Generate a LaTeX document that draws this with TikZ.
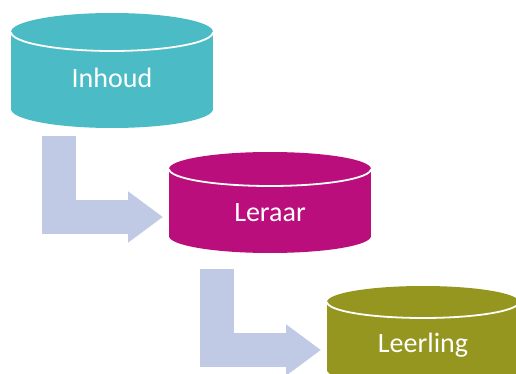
\documentclass[tikz,border=0pt]{standalone}
\usepackage{fontspec}
\setmainfont{Carlito}
\usetikzlibrary{arrows.meta}

\definecolor{inhoudteal}{RGB}{75,187,198}
\definecolor{leraarpink}{RGB}{186,14,125}
\definecolor{leerlingolive}{RGB}{149,150,31}
\definecolor{flowblue}{RGB}{192,202,228}

\begin{document}
\begin{tikzpicture}[x=1pt,y=-1pt,
	label/.style={text=white,anchor=base,font=\fontsize{28}{30}\selectfont},
	rim/.style={white,line width=1.8pt},
	flow/.style={draw=flowblue,line width=34pt,-{Triangle[width=49pt,length=35pt]}}]
	\useasboundingbox (0,0) rectangle (516,374);
	\clip (0,0) rectangle (516,374);
	% Inhoud
	\fill[inhoudteal] (112,109) ellipse (101 and 19);
	\fill[inhoudteal] (11,32) rectangle (213,109);
	\fill[inhoudteal] (112,32) ellipse (101 and 19);
	\draw[rim] (213,32) arc (0:180:101 and 19);
	\node[label] (inhoud) at (112,88) {Inhoud};
	% Leraar
	\fill[leraarpink] (270,236) ellipse (101 and 17);
	\fill[leraarpink] (169,169) rectangle (371,236);
	\fill[leraarpink] (270,169) ellipse (101 and 17);
	\draw[rim] (371,169) arc (0:180:101 and 17);
	\node[label] (leraar) at (270,221) {Leraar};
	% Leerling
	\fill[leerlingolive] (423,370) ellipse (96 and 16);
	\fill[leerlingolive] (327,302) rectangle (519,370);
	\fill[leerlingolive] (423,302) ellipse (96 and 16);
	\draw[rim] (519,302) arc (0:180:96 and 16);
	\node[label] (leerling) at (423,352) {Leerling};
	% pijlen
	\coordinate (a1) at (59,136);
	\coordinate (b1) at (163,217);
	\coordinate (a2) at (217,269);
	\coordinate (b2) at (321,350);
	\draw[flow] (a1) |- (b1);
	\draw[flow] (a2) |- (b2);
\end{tikzpicture}
\end{document}
